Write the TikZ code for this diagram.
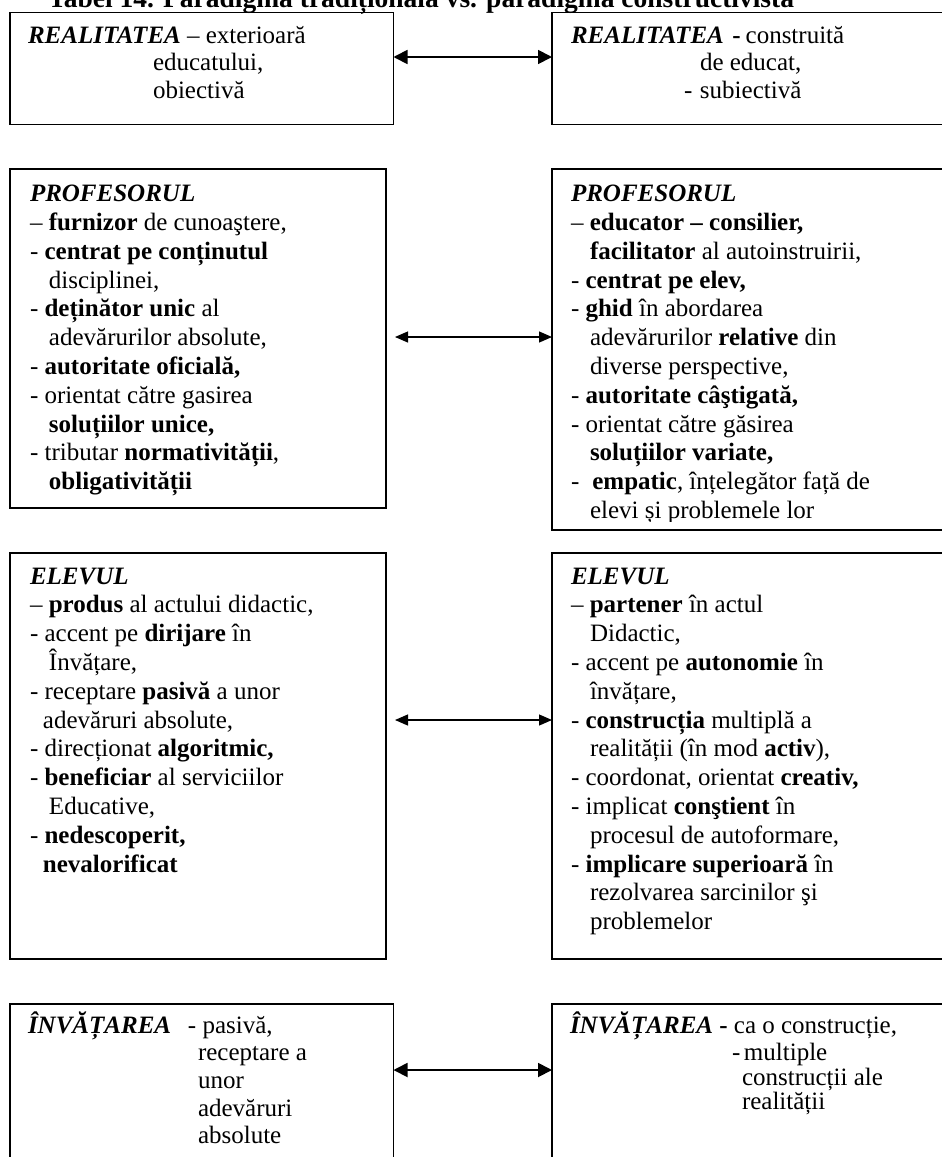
\documentclass[tikz,border=0pt]{standalone}
\usepackage{fontspec}
\setmainfont{Liberation Serif}
\usetikzlibrary{arrows.meta}
\newcommand\myfont[1]{\fontsize{25}{#1}\selectfont\lineskiplimit=-100pt\lineskip=0pt}
\newcommand\bi[1]{\textbf{\textit{#1}}}
\tikzset{
  outerbox/.style={draw, line width=1.8pt, inner sep=0pt, outer sep=0pt},
  midbox/.style={draw, line width=1.6pt, inner sep=0pt, outer sep=0pt},
  txt/.style={anchor=base west, inner sep=0pt, outer sep=0pt},
  bigarrow/.style={line width=1.8pt, {Triangle[length=14pt,width=14pt]}-{Triangle[length=14pt,width=14pt]}},
  thinarrow/.style={line width=1.2pt, {Triangle[length=13pt,width=11pt]}-{Triangle[length=13pt,width=11pt]}},
}
\begin{document}
\begin{tikzpicture}[x=1pt, y=-1pt]
\useasboundingbox (0,0) rectangle (942,1157);
\fill[white] (0,0) rectangle (942,1157);

% title (cut at top, as in the reference)
\node[txt, font=\fontsize{27.5}{30}\selectfont\bfseries] (title) at (48,7)
  {Tabel 14. Paradigma tradițională vs. paradigma constructivistă};

% boxes
\node[outerbox, minimum width=383.5pt, minimum height=112pt] (A) at (201.75,68.5) {};
\node[outerbox, minimum width=410pt, minimum height=112pt] (B) at (757,68.5) {};
\node[midbox, minimum width=376pt, minimum height=339pt] (C) at (198,338.5) {};
\node[midbox, minimum width=410pt, minimum height=361pt] (D) at (757,349.5) {};
\node[midbox, minimum width=376pt, minimum height=406pt] (E) at (198,756) {};
\node[midbox, minimum width=410pt, minimum height=406pt] (F) at (757,756) {};
\node[outerbox, minimum width=383.5pt, minimum height=176pt] (G) at (201.75,1092) {};
\node[outerbox, minimum width=410pt, minimum height=176pt] (H) at (757,1092) {};

% texts
\node[txt] (tA) at (28,43) {\parbox[t]{360pt}{\myfont{27.5pt}%
\bi{REALITATEA} – exterioară\\
\hspace*{125pt}educatului,\\
\hspace*{125pt}obiectivă}};

\node[txt] (tB) at (571,43) {\parbox[t]{360pt}{\myfont{27.5pt}%
\bi{REALITATEA}\hspace{8.5pt}\textbf{-}\hspace{5pt}construită\\
\hspace*{129pt}de educat,\\
\hspace*{113pt}\makebox[16pt][l]{-}subiectivă}};

\node[txt] (tC) at (30,201.7) {\parbox[t]{350pt}{\myfont{28.8pt}%
\bi{PROFESORUL}\\
– \textbf{furnizor} de cunoaştere,\\
- \textbf{centrat pe conținutul}\\
\hspace*{19pt}disciplinei,\\
- \textbf{deținător unic} al\\
\hspace*{19pt}adevărurilor absolute,\\
- \textbf{autoritate oficială,}\\
- orientat către gasirea\\
\hspace*{19pt}\textbf{soluțiilor unice,}\\
- tributar \textbf{normativității},\\
\hspace*{19pt}\textbf{obligativității}}};

\begin{scope}
\clip (552,169) rectangle (962,521);
\node[txt] (tD) at (571,201.7) {\parbox[t]{370pt}{\myfont{28.8pt}%
\bi{PROFESORUL}\\
– \textbf{educator – consilier,}\\
\hspace*{19pt}\textbf{facilitator} al autoinstruirii,\\
- \textbf{centrat pe elev,}\\
- \textbf{ghid} în abordarea\\
\hspace*{19pt}adevărurilor \textbf{relative} din\\
\hspace*{19pt}diverse perspective,\\
- \textbf{autoritate câştigată,}\\
- orientat către găsirea\\
\hspace*{19pt}\textbf{soluțiilor variate,}\\
-\hspace{13pt}\textbf{empatic}, înțelegător față de\\
\hspace*{19pt}elevi și problemele lor}};
\end{scope}

\node[txt] (tE) at (30,584) {\parbox[t]{350pt}{\myfont{28.8pt}%
\bi{ELEVUL}\\
– \textbf{produs} al actului didactic,\\
- accent pe \textbf{dirijare} în\\
\hspace*{19pt}Învățare,\\
- receptare \textbf{pasivă} a unor\\
\hspace*{13pt}adevăruri absolute,\\
- direcționat \textbf{algoritmic,}\\
- \textbf{beneficiar} al serviciilor\\
\hspace*{19pt}Educative,\\
- \textbf{nedescoperit,}\\
\hspace*{13pt}\textbf{nevalorificat}}};

\node[txt] (tF) at (571,584) {\parbox[t]{370pt}{\myfont{28.8pt}%
\bi{ELEVUL}\\
– \textbf{partener} în actul\\
\hspace*{19pt}Didactic,\\
- accent pe \textbf{autonomie} în\\
\hspace*{19pt}învățare,\\
- \textbf{construcția} multiplă a\\
\hspace*{19pt}realității (în mod \textbf{activ}),\\
- coordonat, orientat \textbf{creativ,}\\
- implicat \textbf{conştient} în\\
\hspace*{19pt}procesul de autoformare,\\
- \textbf{implicare superioară} în\\
\hspace*{19pt}rezolvarea sarcinilor şi\\
\hspace*{19pt}problemelor}};

\node[txt] (tG) at (28,1033) {\parbox[t]{360pt}{\myfont{27.7pt}%
\makebox[160pt][l]{\bi{ÎNVĂȚAREA}}- pasivă,\\
\hspace*{170pt}receptare a\\
\hspace*{170pt}unor\\
\hspace*{170pt}adevăruri\\
\hspace*{170pt}absolute}};

\node[txt] (tH) at (570,1033) {\parbox[t]{360pt}{\myfont{24.5pt}%
\bi{ÎNVĂȚAREA} \textbf{-} ca o construcție,\\[3pt]
\hspace*{162pt}\makebox[12pt][l]{-}multiple\\
\hspace*{172pt}construcții ale\\
\hspace*{172pt}realității}};

% connectors
\coordinate (y1) at (0,57);
\coordinate (y2) at (0,337);
\coordinate (y3) at (0,720);
\coordinate (y4) at (0,1070);
\coordinate (c2) at ([xshift=9pt]C.east);
\coordinate (e2) at ([xshift=9pt]E.east);
\draw[bigarrow] (A.east |- y1) -- (B.west |- y1);
\draw[thinarrow] (c2 |- y2) -- (D.west |- y2);
\draw[thinarrow] (e2 |- y3) -- (F.west |- y3);
\draw[bigarrow] (G.east |- y4) -- (H.west |- y4);
\end{tikzpicture}
\end{document}
